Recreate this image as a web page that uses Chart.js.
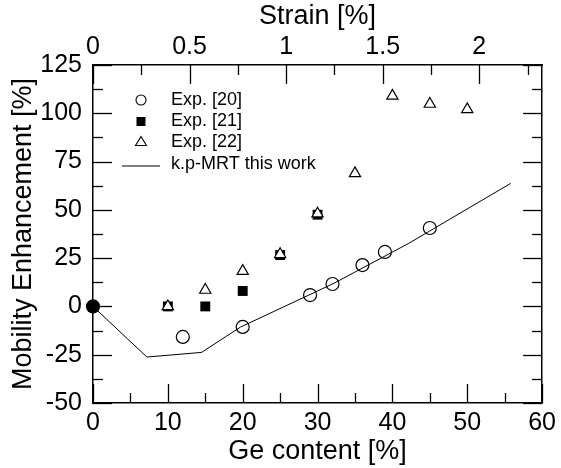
<!DOCTYPE html>
<html>
<head>
<meta charset="utf-8">
<script src="https://cdn.jsdelivr.net/npm/chart.js"></script>
<style>
  html, body { margin: 0; padding: 0; background: #fff; }
  #wrap { width: 561px; height: 468px; }
</style>
</head>
<body>
<div id="wrap"><canvas id="myGrafic" width="561" height="468"></canvas></div>
<script>
Chart.defaults.font.family = "'Liberation Sans', Arial, Helvetica, sans-serif";
Chart.defaults.color = '#000';

// Ge content [%] vs mobility enhancement [%]
const exp20Ge = [0, 12, 20, 29, 32, 36, 39, 45];
const exp20Val = [0, -15.8, -10.6, 5.9, 11.6, 21.4, 28.2, 40.6];

const exp21Ge = [0, 10, 15, 20, 25, 30];
const exp21Val = [0, 0, 0, 8, 26.6, 47.5];

const exp22Ge = [10, 15, 20, 25, 30, 35, 40, 45, 50];
const exp22Val = [0, 8.5, 18.3, 27, 48, 68.9, 109, 104.8, 102];

const modelGe = [0, 7.2, 14.5, 19.7, 32.2, 42.2, 55.8];
const modelVal = [0, -26.2, -23.8, -10.7, 12, 32.7, 63.7];

const geTicks = [0, 10, 20, 30, 40, 50, 60];
const enhTicks = [-50, -25, 0, 25, 50, 75, 100, 125];
const strainTicks = [0, 0.5, 1, 1.5, 2];
const strainMax = 2.325; // strain at 60 % Ge

const toXY = (xs, ys) => xs.map((x, i) => ({ x: x, y: ys[i] }));
const setTicks = list => scale => { scale.ticks = list.map(v => ({ value: v })); };

const tickFont = { size: 25 };
const titleFont = { size: 27 };
const border = { display: true, color: '#000', width: 1.5 };

// inward tick marks, major + minor, on all four sides
const inTicks = {
  id: 'inTicks',
  afterDraw(chart) {
    const { ctx, chartArea: a, scales } = chart;
    ctx.save();
    ctx.strokeStyle = '#000';
    ctx.lineWidth = 1.3;
    const mark = (scale, major, step, max) => {
      const minor = major.map(v => v + step / 2).filter(v => v < max);
      [[major, 19], [minor, 10]].forEach(([vals, len]) => {
        vals.forEach(v => {
          const p = Math.round(scale.getPixelForValue(v)) + 0.5;
          ctx.beginPath();
          if (scale.position === 'bottom') { ctx.moveTo(p, a.bottom); ctx.lineTo(p, a.bottom - len); }
          if (scale.position === 'top') { ctx.moveTo(p, a.top); ctx.lineTo(p, a.top + len); }
          if (scale.position === 'left') { ctx.moveTo(a.left, p); ctx.lineTo(a.left + len, p); }
          if (scale.position === 'right') { ctx.moveTo(a.right, p); ctx.lineTo(a.right - len, p); }
          ctx.stroke();
        });
      });
    };
    mark(scales.x, geTicks, 10, 60);
    mark(scales.x2, strainTicks, 0.5, strainMax);
    mark(scales.y, enhTicks, 25, 125);
    mark(scales.y2, enhTicks, 25, 125);
    ctx.restore();
  }
};

// legend box inside the plot
const legendBox = {
  id: 'legendBox',
  afterDraw(chart) {
    const ctx = chart.ctx;
    ctx.save();
    ctx.strokeStyle = '#000';
    ctx.lineWidth = 1.1;
    ctx.font = "18px 'Liberation Sans', Arial, sans-serif";
    ctx.textBaseline = 'middle';
    ctx.fillStyle = '#000';
    const mx = 141, tx = 171;
    // circle
    ctx.beginPath(); ctx.arc(mx, 100, 5, 0, Math.PI * 2); ctx.fillStyle = '#fff'; ctx.fill(); ctx.stroke();
    // square
    ctx.fillStyle = '#000'; ctx.fillRect(mx - 4.5, 117, 9, 9);
    // triangle
    ctx.beginPath(); ctx.moveTo(mx, 136.5); ctx.lineTo(mx + 5.5, 145.5); ctx.lineTo(mx - 5.5, 145.5); ctx.closePath();
    ctx.fillStyle = '#fff'; ctx.fill(); ctx.stroke();
    // line
    ctx.beginPath(); ctx.moveTo(122, 166); ctx.lineTo(160, 166); ctx.stroke();
    ctx.fillStyle = '#000';
    ctx.fillText('Exp. [20]', tx, 100);
    ctx.fillText('Exp. [21]', tx, 121);
    ctx.fillText('Exp. [22]', tx, 142);
    ctx.fillText('k.p-MRT this work', tx, 164);
    ctx.restore();
  }
};

const mainGrafic = document.getElementById('myGrafic');

new Chart(mainGrafic, {
  type: 'scatter',
  data: {
    datasets: [{
      type: 'line',
      data: toXY(modelGe, modelVal),
      borderColor: '#000',
      borderWidth: 1,
      pointRadius: 0,
      tension: 0,
      fill: false,
      clip: false,
      order: 4,
    }, {
      data: toXY(exp21Ge, exp21Val),
      pointStyle: 'rect',
      pointRadius: 7,
      backgroundColor: '#000',
      borderColor: '#000',
      borderWidth: 0,
      clip: false,
      order: 3,
    }, {
      data: toXY(exp22Ge, exp22Val),
      pointStyle: 'triangle',
      pointRadius: 6.5,
      backgroundColor: '#fff',
      borderColor: '#000',
      borderWidth: 1.2,
      clip: false,
      order: 2,
    }, {
      data: toXY(exp20Ge, exp20Val),
      pointStyle: 'circle',
      pointRadius: 6.5,
      backgroundColor: exp20Ge.map(g => g === 0 ? '#000' : 'rgba(255,255,255,0)'),
      borderColor: '#000',
      borderWidth: 1.2,
      clip: false,
      order: 1,
    }]
  },
  options: {
    responsive: false,
    animation: false,
    devicePixelRatio: 1,
    layout: { padding: 0 },
    elements: { point: { hoverRadius: 6.5 } },
    scales: {
      x: {
        type: 'linear', position: 'bottom', min: 0, max: 60,
        afterBuildTicks: setTicks(geTicks),
        afterFit: s => { s.height = 65; },
        grid: { display: false, drawTicks: false },
        border: border,
        ticks: { font: tickFont, padding: 5, maxRotation: 0, callback: v => String(v) },
        title: { display: true, text: 'Ge content [%]', font: titleFont, padding: 0 },
      },
      x2: {
        type: 'linear', position: 'top', min: 0, max: strainMax,
        afterBuildTicks: setTicks(strainTicks),
        afterFit: s => { s.height = 65; },
        grid: { display: false, drawTicks: false },
        border: border,
        ticks: { font: tickFont, padding: 3, maxRotation: 0, callback: v => String(v) },
        title: { display: true, text: 'Strain [%]', font: titleFont, padding: 0 },
      },
      y: {
        type: 'linear', position: 'left', min: -50, max: 125,
        afterBuildTicks: setTicks(enhTicks),
        afterFit: s => { s.width = 93; },
        grid: { display: false, drawTicks: false },
        border: border,
        ticks: { font: tickFont, padding: 11, callback: v => String(v) },
        title: { display: true, text: 'Mobility Enhancement [%]', font: titleFont, padding: { top: 7, bottom: 0 } },
      },
      y2: {
        type: 'linear', position: 'right', min: -50, max: 125,
        afterBuildTicks: setTicks(enhTicks),
        afterFit: s => { s.width = 17; },
        grid: { display: false, drawTicks: false },
        border: border,
        ticks: { display: false },
      },
    },
    plugins: {
      legend: { display: false },
      tooltip: { enabled: false },
    }
  },
  plugins: [inTicks, legendBox]
});
</script>
</body>
</html>
